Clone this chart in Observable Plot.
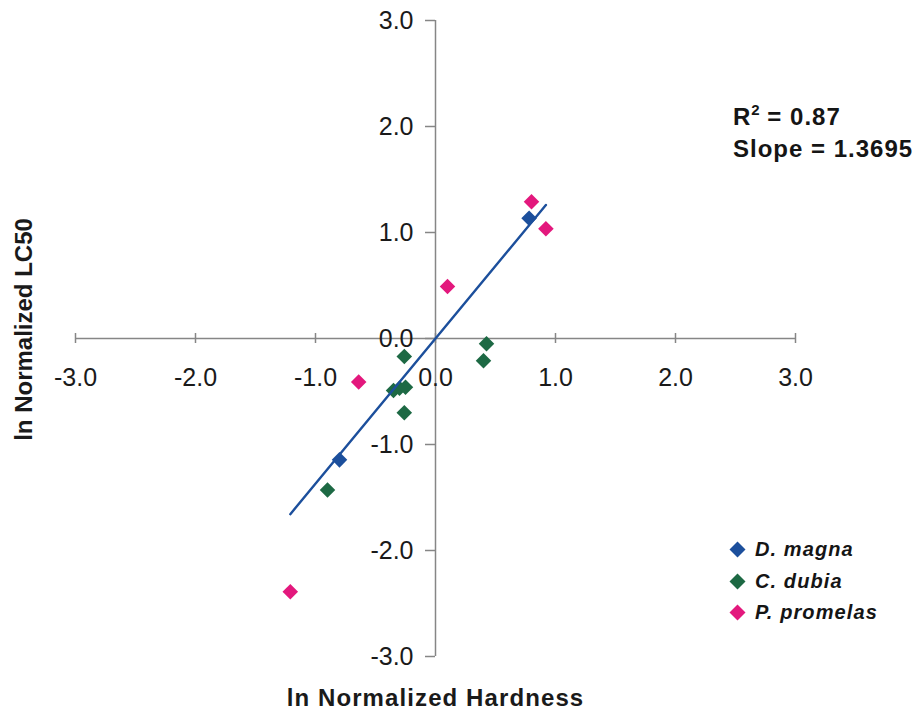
<!DOCTYPE html>
<html>
<head>
<meta charset="utf-8">
<script src="https://cdn.jsdelivr.net/npm/d3@7"></script>
<script src="https://cdn.jsdelivr.net/npm/@observablehq/plot@0.6"></script>
<style>
  body { margin: 0; background: #fff; }
  #wrap { position: relative; width: 922px; height: 717px; font-family: "Liberation Sans", Arial, sans-serif; color: #151515; }
  .ann { position: absolute; left: 733px; top: 101px; font-weight: bold; font-size: 24px; line-height: 32px; letter-spacing: 1px; white-space: nowrap; }
  .ann .sup { font-size: 15px; vertical-align: 10px; line-height: 0; letter-spacing: 0; }
  .legend { position: absolute; left: 729px; top: 534px; }
  .legend .row { display: flex; align-items: center; height: 31.5px; font-weight: bold; font-style: italic; font-size: 20px; letter-spacing: 1.1px; white-space: nowrap; }
  .legend svg { margin-right: 9px; }
</style>
</head>
<body>
<div id="wrap">
  <div id="chart"></div>
  <div class="ann" id="ann"></div>
  <div class="legend" id="legend"></div>
</div>
<script>
// ---- data ----
const seriesNames = ["D. magna", "C. dubia", "P. promelas"];
const seriesColors = ["#1c4f9c", "#1d6944", "#e3187d"];

const magnaX = [0.78, -0.80];
const magnaY = [1.135, -1.145];

const dubiaX = [0.425, 0.40, -0.26, -0.35, -0.30, -0.25, -0.26, -0.90];
const dubiaY = [-0.05, -0.21, -0.17, -0.49, -0.47, -0.46, -0.70, -1.43];

const promelasX = [0.80, 0.92, 0.10, -0.64, -1.21];
const promelasY = [1.29, 1.035, 0.49, -0.41, -2.39];

const rSquared = 0.87;
const slope = 1.3695;
const intercept = 0;

const xTicks = [-3, -2, -1, 0, 1, 2, 3];
const yTicks = [-3, -2, -1, 0, 1, 2, 3];

const xTitle = "ln Normalized Hardness";
const yTitle = "ln Normalized LC50";

// ---- build table ----
const seriesXY = [[magnaX, magnaY], [dubiaX, dubiaY], [promelasX, promelasY]];
const points = [];
seriesXY.forEach(([xs, ys], s) => xs.forEach((x, i) => points.push({series: seriesNames[s], x, y: ys[i]})));

const xMin = d3.min(points, d => d.x), xMax = d3.max(points, d => d.x);
const trend = [xMin, xMax].map(x => ({x, y: slope * x + intercept}));

const axisColor = "#868686";
const textColor = "#1a1a1a";

const plot = Plot.plot({
  width: 922,
  height: 717,
  marginLeft: 75,
  marginRight: 127,
  marginTop: 20,
  marginBottom: 61,
  x: {domain: [-3, 3], axis: null},
  y: {domain: [-3, 3], axis: null},
  color: {domain: seriesNames, range: seriesColors},
  style: {fontFamily: '"Liberation Sans", Arial, sans-serif', fontSize: "25px", background: "white", color: textColor},
  marks: [
    Plot.ruleY([0], {x1: -3, x2: 3, stroke: axisColor, strokeWidth: 1.5}),
    Plot.ruleX([0], {y1: -3, y2: 3, stroke: axisColor, strokeWidth: 1.5}),
    Plot.ruleX(xTicks, {x: d => d, y1: 0, y2: 0, insetTop: -5, insetBottom: -5, stroke: axisColor, strokeWidth: 1.5}),
    Plot.ruleY(yTicks, {y: d => d, x1: 0, x2: 0, insetLeft: -10, stroke: axisColor, strokeWidth: 1.5}),
    Plot.text(xTicks, {x: d => d, y: 0, text: d => d.toFixed(1), dy: 39, fill: textColor, fontSize: 25}),
    Plot.text(yTicks, {x: 0, y: d => d, text: d => d.toFixed(1), dx: -22, textAnchor: "end", fill: textColor, fontSize: 25}),
    Plot.dot(points, {x: "x", y: "y", fill: "series", symbol: "diamond2", r: 7, stroke: "none"}),
    Plot.line(trend, {x: "x", y: "y", stroke: "#1c4f9c", strokeWidth: 2.4}),
    Plot.text([xTitle], {frameAnchor: "bottom", text: d => d, dy: 42, lineAnchor: "middle", fontWeight: "bold", fontSize: 24, fill: textColor}),
    Plot.text([yTitle], {frameAnchor: "left", text: d => d, dx: -51, dy: -9, textAnchor: "middle", lineAnchor: "middle", rotate: -90, fontWeight: "bold", fontSize: 24, fill: textColor})
  ]
});
document.getElementById("chart").appendChild(plot);

// slightly wider tracking on the x-axis title, as in the reference
d3.select(plot).selectAll("text").filter(function() { return this.textContent === xTitle; })
  .style("letter-spacing", "1.1px");

// annotation
document.getElementById("ann").innerHTML =
  `R<span class="sup">2</span> = ${rSquared.toFixed(2)}<br>Slope = ${slope.toFixed(4)}`;

// legend
const leg = document.getElementById("legend");
seriesNames.forEach((name, i) => {
  const row = document.createElement("div");
  row.className = "row";
  row.innerHTML = `<svg width="17" height="17" viewBox="0 0 17 17"><polygon points="8.5,0.5 16.5,8.5 8.5,16.5 0.5,8.5" fill="${seriesColors[i]}"/></svg><span>${name}</span>`;
  leg.appendChild(row);
});
</script>
</body>
</html>
